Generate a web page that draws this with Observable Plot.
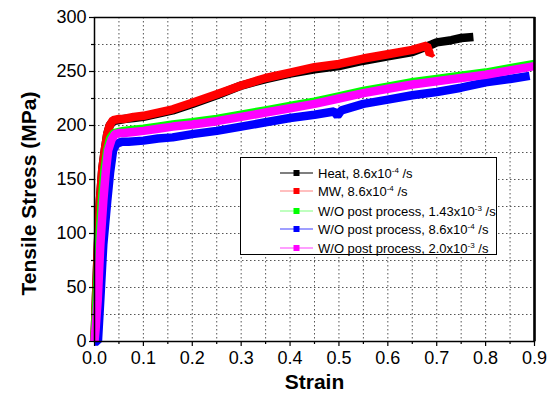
<!DOCTYPE html>
<html>
<head>
<meta charset="utf-8">
<script src="https://cdn.jsdelivr.net/npm/d3@7"></script>
<script src="https://cdn.jsdelivr.net/npm/@observablehq/plot@0.6"></script>
<style>
  html, body { margin: 0; padding: 0; background: #fff; }
  #wrap { position: relative; width: 547px; height: 402px; font-family: "Liberation Sans", Arial, sans-serif; }
  #legend { position: absolute; left: 240px; top: 157px; width: 255px; height: 96px; border: 1.5px solid #000; background: #fff; box-sizing: content-box; }
  .row { position: absolute; left: 0; height: 18px; display: flex; align-items: center; font-size: 13px; white-space: nowrap; }
  .row svg { margin-left: 39px; margin-right: 5px; }
  sup { font-size: 8px; vertical-align: 5px; line-height: 0; }
</style>
</head>
<body>
<div id="wrap"></div>
<script>
// ---- data ----
const heatStrain = [0, 0.003, 0.007, 0.011, 0.016, 0.021, 0.026, 0.031, 0.038, 0.05, 0.06, 0.08, 0.1, 0.13, 0.16, 0.2, 0.25, 0.3, 0.35, 0.4, 0.45, 0.5, 0.55, 0.6, 0.65, 0.69, 0.7, 0.73, 0.75, 0.775];
const heatStress = [0, 40, 90, 130, 160, 177, 192, 200, 204, 205, 206, 207, 208, 211, 214, 220, 228, 237, 243, 248, 252, 255, 260, 264, 268, 275, 277, 279, 281, 282];

const mwStrain = [0, 0.003, 0.007, 0.011, 0.016, 0.021, 0.026, 0.031, 0.038, 0.05, 0.06, 0.08, 0.1, 0.13, 0.16, 0.2, 0.25, 0.3, 0.35, 0.4, 0.45, 0.5, 0.55, 0.6, 0.65, 0.68, 0.686, 0.692];
const mwStress = [0, 40, 90, 130, 160, 177, 192, 200, 205, 206, 206, 208, 209, 212, 215, 221, 229, 237, 244, 249, 254, 257, 262, 266, 270, 274, 266, 268];

const g143Strain = [0, 0.004, 0.009, 0.015, 0.02, 0.026, 0.032, 0.04, 0.05, 0.06, 0.08, 0.1, 0.13, 0.16, 0.2, 0.25, 0.3, 0.35, 0.4, 0.45, 0.5, 0.55, 0.6, 0.65, 0.7, 0.75, 0.8, 0.85, 0.9];
const g143Stress = [0, 38, 90, 130, 157, 177, 188, 193, 194, 195, 196, 197, 199, 201, 203, 206, 210, 214, 218, 222, 227, 232, 236, 240, 243, 246, 249, 253, 257];

const b86Strain = [0, 0.007, 0.012, 0.018, 0.026, 0.032, 0.038, 0.045, 0.056, 0.07, 0.1, 0.13, 0.16, 0.2, 0.25, 0.3, 0.35, 0.4, 0.45, 0.49, 0.497, 0.505, 0.55, 0.6, 0.65, 0.7, 0.75, 0.8, 0.85, 0.89];
const b86Stress = [0, 0, 40, 90, 130, 157, 177, 183, 185, 185, 186, 188, 189, 192, 195, 199, 203, 207, 210, 213, 209, 214, 220, 224, 228, 231, 235, 240, 243, 246];

const p20Strain = [0, 0.002, 0.0065, 0.012, 0.018, 0.023, 0.028, 0.035, 0.042, 0.05, 0.06, 0.08, 0.1, 0.13, 0.16, 0.2, 0.25, 0.3, 0.35, 0.4, 0.45, 0.5, 0.55, 0.6, 0.65, 0.7, 0.75, 0.8, 0.85, 0.9];
const p20Stress = [0, 10, 38, 90, 130, 157, 177, 187, 192, 193, 193, 194, 195, 197, 199, 201, 204, 208, 212, 216, 220, 225, 230, 234, 238, 241, 244, 247, 251, 255];

const seriesNames = ["Heat", "MW", "W/O 1.43", "W/O 8.6", "W/O 2.0"];
const seriesColors = ["#000000", "#ff0000", "#00ff00", "#0000ff", "#ff00ff"];
const legendLineColors = ["#000000", "#ff8080", "#80ff80", "#4040ff", "#ff40ff"];
const legendLabels = [
  "Heat, 8.6x10<sup>-4</sup> /s",
  "MW, 8.6x10<sup>-4</sup> /s",
  "W/O post process, 1.43x10<sup>-3</sup> /s",
  "W/O post process, 8.6x10<sup>-4</sup> /s",
  "W/O post process, 2.0x10<sup>-3</sup> /s"
];

const xTicks = [0, 0.1, 0.2, 0.3, 0.4, 0.5, 0.6, 0.7, 0.8, 0.9];
const xMinor = [0.05, 0.15, 0.25, 0.35, 0.45, 0.55, 0.65, 0.75, 0.85];
const yTicks = [0, 50, 100, 150, 200, 250, 300];
const yMinor = [25, 75, 125, 175, 225, 275];

// ---- build table ----
const pairs = [[heatStrain, heatStress], [mwStrain, mwStress], [g143Strain, g143Stress], [b86Strain, b86Stress], [p20Strain, p20Stress]];
const rows = [];
pairs.forEach(([xs, ys], i) => xs.forEach((x, j) => rows.push({series: seriesNames[i], strain: x, stress: ys[j]})));

const xGrid = xTicks.concat(xMinor).filter(v => v > 0 && v < 0.9);
const yGrid = yTicks.concat(yMinor).filter(v => v > 0 && v < 300);

const font = "Liberation Sans, Arial, sans-serif";

const chart = Plot.plot({
  width: 547,
  height: 402,
  marginLeft: 94,
  marginRight: 13,
  marginTop: 17,
  marginBottom: 61,
  style: {fontFamily: font, background: "#fff", overflow: "visible"},
  x: {domain: [0, 0.9]},
  y: {domain: [0, 300]},
  color: {domain: seriesNames, range: seriesColors},
  marks: [
    Plot.ruleX(xGrid, {stroke: "#555", strokeWidth: 1, strokeDasharray: "1.5,2.5"}),
    Plot.ruleY(yGrid, {stroke: "#555", strokeWidth: 1, strokeDasharray: "1.5,2.5"}),
    Plot.line(rows, {x: "strain", y: "stress", z: "series", stroke: "series", strokeWidth: 8.5, strokeLinejoin: "miter", strokeLinecap: "butt"}),
    Plot.frame({stroke: "#000", strokeWidth: 1.5}),
    Plot.ruleX([0.9], {stroke: "#000", strokeWidth: 2.5}),
    Plot.axisX({ticks: xTicks, tickSize: 5, tickPadding: 5, fontSize: 18, tickFormat: d3.format(".1f"), label: null, stroke: "#000", strokeWidth: 1.2}),
    Plot.axisX({ticks: xMinor, tickSize: 3, text: null, label: null, stroke: "#000", strokeWidth: 1.2}),
    Plot.axisY({ticks: yTicks, tickSize: 5, tickPadding: 3, fontSize: 18, label: null, stroke: "#000", strokeWidth: 1.2}),
    Plot.axisY({ticks: yMinor, tickSize: 3, text: null, label: null, stroke: "#000", strokeWidth: 1.2}),
    Plot.text(["Strain"], {frameAnchor: "bottom", dy: 47, fontSize: 21, fontWeight: "bold", fill: "#000"}),
    Plot.text(["Tensile Stress (MPa)"], {frameAnchor: "left", dx: -65, dy: 14, rotate: -90, textAnchor: "middle", fontSize: 21, fontWeight: "bold", fill: "#000"})
  ]
});

const wrap = document.getElementById("wrap");
wrap.appendChild(chart);

const legend = document.createElement("div");
legend.id = "legend";
const rowTops = [6, 24, 44, 62, 81];
legendLabels.forEach((lab, i) => {
  const r = document.createElement("div");
  r.className = "row";
  r.style.top = rowTops[i] + "px";
  r.innerHTML = `<svg width="33" height="8"><line x1="0" y1="4" x2="33" y2="4" stroke="${legendLineColors[i]}" stroke-width="1.2"/><rect x="13.5" y="1" width="6" height="6" fill="${seriesColors[i]}"/></svg><span>${lab}</span>`;
  legend.appendChild(r);
});
wrap.appendChild(legend);
</script>
</body>
</html>
